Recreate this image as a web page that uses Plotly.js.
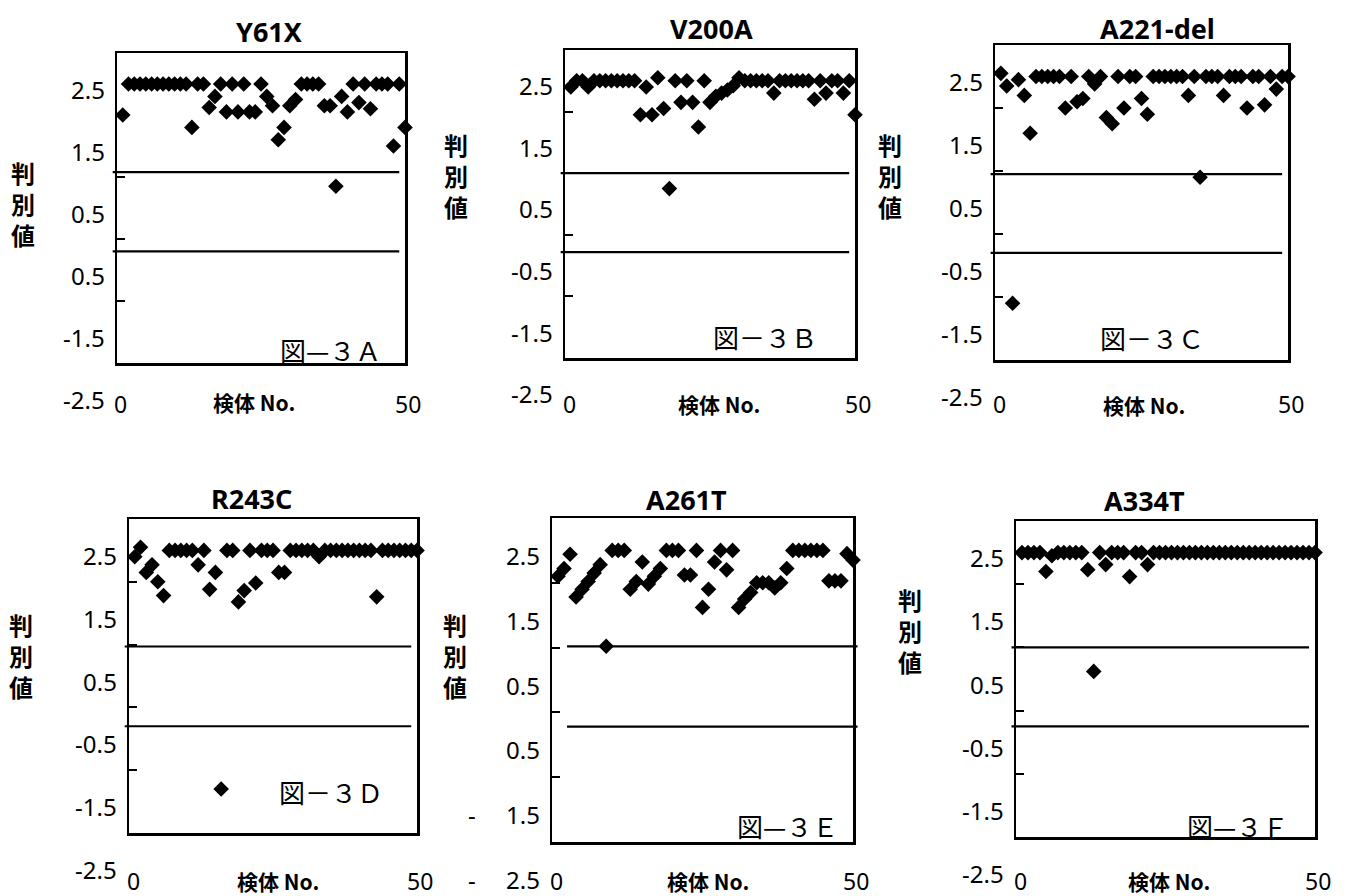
<!DOCTYPE html>
<html><head><meta charset="utf-8">
<script src="https://cdn.plot.ly/plotly-3.0.1.min.js"></script>
<style>html,body{margin:0;padding:0;background:#fff}</style>
</head><body><div id="chart" style="width:1349px;height:896px"></div>
<script>
// ---------- data ----------
const specimenNo = [1,2,3,4,5,6,7,8,9,10,11,12,13,14,15,16,17,18,19,20,21,22,23,24,25,26,27,28,29,30,31,32,33,34,35,36,37,38,39,40,41,42,43,44,45,46,47,48,49,50];
const y61x = [2.0,2.5,2.5,2.5,2.5,2.5,2.5,2.5,2.5,2.5, 2.5,2.5,1.8,2.5,2.5,2.12,2.3,2.5,2.05,2.5, 2.05,2.5,2.05,2.05,2.5,2.3,2.15,1.6,1.8,2.15, 2.25,2.5,2.5,2.5,2.5,2.15,2.15,0.85,2.3,2.05, 2.5,2.2,2.5,2.1,2.5,2.5,2.5,1.5,2.5,1.8];
const v200a = [2.4,2.5,2.5,2.4,2.5,2.5,2.5,2.5,2.5,2.5, 2.5,2.5,1.95,2.4,1.95,2.55,2.05,0.75,2.5,2.15, 2.5,2.15,1.75,2.5,2.15,2.25,2.3,2.35,2.42,2.55, 2.5,2.5,2.5,2.5,2.5,2.3,2.5,2.5,2.5,2.5, 2.5,2.5,2.2,2.5,2.3,2.5,2.5,2.3,2.5,1.95];
const a221del = [2.55,2.35,-1.1,2.45,2.2,1.6,2.5,2.5,2.5,2.5, 2.5,2.0,2.5,2.1,2.15,2.5,2.38,2.5,1.85,1.75, 2.5,2.0,2.5,2.5,2.15,1.9,2.5,2.5,2.5,2.5, 2.5,2.5,2.2,2.5,0.9,2.5,2.5,2.5,2.2,2.5, 2.5,2.5,2.0,2.5,2.5,2.05,2.5,2.3,2.5,2.5];
const r243c = [2.4,2.55,2.15,2.27,2.0,1.78,2.5,2.5,2.5,2.5, 2.5,2.27,2.5,1.88,2.15,-1.3,2.5,2.5,1.68,1.86, 2.5,1.98,2.5,2.5,2.5,2.15,2.15,2.5,2.5,2.5, 2.5,2.5,2.4,2.5,2.5,2.5,2.5,2.5,2.5,2.5, 2.5,2.5,1.76,2.5,2.5,2.5,2.5,2.5,2.5,2.5];
const a261t = [2.1,2.22,2.44,1.78,1.9,2.02,2.15,2.28,1.02,2.5, 2.5,2.5,1.9,2.02,2.32,1.98,2.1,2.22,2.5,2.5, 2.5,2.12,2.12,2.5,1.62,1.9,2.32,2.5,2.2,2.5, 1.62,1.75,1.85,2.0,2.0,2.0,1.92,2.0,2.22,2.5, 2.5,2.5,2.5,2.5,2.5,2.03,2.03,2.03,2.45,2.35];
const a334t = [2.5,2.5,2.5,2.5,2.2,2.45,2.5,2.5,2.5,2.5, 2.5,2.23,0.62,2.5,2.31,2.5,2.5,2.5,2.12,2.5, 2.5,2.31,2.5,2.5,2.5,2.5,2.5,2.5,2.5,2.5, 2.5,2.5,2.5,2.5,2.5,2.5,2.5,2.5,2.5,2.5, 2.5,2.5,2.5,2.5,2.5,2.5,2.5,2.5,2.5,2.5];

const panelTitles = ['Y61X','V200A','A221-del','R243C','A261T','A334T'];
const figureLabels = ['図—３Ａ','図－３Ｂ','図－３Ｃ','図－３Ｄ','図—３Ｅ','図—３Ｆ'];
const upperCut = [1.08,1.0,0.95,0.97,1.02,1.0];
const lowerCut = [-0.2,-0.28,-0.3,-0.3,-0.22,-0.25];
const yLabelValues = [2.5,1.5,0.5,-0.5,-1.5,-2.5];
const yLabelsStd = ['2.5','1.5','0.5','-0.5','-1.5','-2.5'];
const yLabelsA = ['2.5','1.5','0.5','0.5','-1.5','-2.5'];
const yLabelsE = ['2.5','1.5','0.5','0.5','-\u2003 1.5','-\u2003 2.5'];
const xEndValues = [0,50];
const xEndLabels = ['0','50'];
const yAxisTitle = '判<br>別<br>値';
const xAxisTitle = '検体 No.';
const yRange = [-2,3];
const xRange = [0,50];

const series = [y61x, v200a, a221del, r243c, a261t, a334t];
const yLabelSets = [yLabelsA, yLabelsStd, yLabelsStd, yLabelsStd, yLabelsE, yLabelsStd];

// ---------- layout geometry (pixels) ----------
const W = 1349, H = 896;
const boxes = [[117,405,53,363],[565,855,50,358],[995,1288,45,360],[129,417,519,833],[552,853,518,842],[1016,1315,521,837]];
const titlePos = [[269,32],[711,28],[1157,29],[251,498],[686,499],[1144,500]];
const yTitlePos = [[23,203],[456,176],[890,176],[21,655],[455,655],[910,630]];
const xTitlePos = [[254,402],[719,404],[1144,405],[278,881],[708,881],[1169,881]];
const figLabelPos = [[330,349],[765,336],[1152,337],[331,791],[787,825],[1237,825]];
const endLabelY = [404,404,404,881,881,881];

const NUM_FONT = 'Noto Sans, Open Sans, sans-serif';
const CJK_FONT = 'Noto Sans CJK JP, Noto Sans, sans-serif';

const traces = [];
const layout = {
  width: W, height: H, margin: {l:0,r:0,t:0,b:0},
  paper_bgcolor: '#fff', plot_bgcolor: '#fff', showlegend: false,
  shapes: [], annotations: []
};

series.forEach((ys, i) => {
  const n = i + 1;
  const xa = 'x' + (n === 1 ? '' : n), ya = 'y' + (n === 1 ? '' : n);
  const xk = 'xaxis' + (n === 1 ? '' : n), yk = 'yaxis' + (n === 1 ? '' : n);
  const [l, r, t, b] = boxes[i];
  const yd = [1 - b / H, 1 - t / H];
  layout[xk] = {
    domain: [l / W, r / W], range: xRange, anchor: ya,
    showline: true, mirror: true, linecolor: '#000', linewidth: 2.5,
    showgrid: false, zeroline: false, showticklabels: false, ticks: '', fixedrange: true
  };
  layout[yk] = {
    domain: yd, range: yRange, anchor: xa,
    showline: true, mirror: true, linecolor: '#000', linewidth: 2.5,
    showgrid: false, zeroline: false, showticklabels: false,
    tickmode: 'array', tickvals: [-1,0,1,2], ticks: 'inside', ticklen: 8, tickwidth: 2, tickcolor: '#000', fixedrange: true
  };
  traces.push({
    type: 'scatter', mode: 'markers', x: specimenNo, y: ys, xaxis: xa, yaxis: ya,
    marker: {symbol: 'diamond', size: 12, color: '#000'}, cliponaxis: false, hoverinfo: 'skip'
  });
  // cut-off lines
  [upperCut[i], lowerCut[i]].forEach(v => {
    layout.shapes.push({
      type: 'line', xref: xa + ' domain', yref: ya, x0: (i === 4 ? 0.05 : -0.015), x1: (i === 4 ? 1.015 : 0.98), y0: v, y1: v,
      line: {color: '#000', width: 2.2}
    });
  });
  // y tick labels
  const labels = yLabelSets[i];
  yLabelValues.forEach((v, k) => {
    const frac = (v - yRange[0]) / (yRange[1] - yRange[0]);
    layout.annotations.push({
      xref: 'paper', yref: 'paper', x: (l - 10) / W, y: yd[0] + frac * (yd[1] - yd[0]),
      xanchor: 'right', yanchor: 'middle', yshift: -5, showarrow: false,
      text: labels[k], font: {family: NUM_FONT, size: 24, color: '#000'}
    });
  });
  // x end labels
  xEndValues.forEach((v, k) => {
    layout.annotations.push({
      xref: xa, yref: 'paper', x: v, y: 1 - endLabelY[i] / H, xshift: (k === 0 ? 4 : 3),
      xanchor: 'center', yanchor: 'middle', showarrow: false,
      text: xEndLabels[k], font: {family: NUM_FONT, size: 23, color: '#000'}
    });
  });
  // panel title
  layout.annotations.push({
    xref: 'paper', yref: 'paper', x: titlePos[i][0] / W, y: 1 - titlePos[i][1] / H,
    xanchor: 'center', yanchor: 'middle', showarrow: false,
    text: '<b>' + panelTitles[i] + '</b>', font: {family: NUM_FONT, size: 27, color: '#000'}
  });
  // y axis title
  layout.annotations.push({
    xref: 'paper', yref: 'paper', x: yTitlePos[i][0] / W, y: 1 - yTitlePos[i][1] / H,
    xanchor: 'center', yanchor: 'middle', showarrow: false,
    text: '<b>' + yAxisTitle + '</b>', font: {family: CJK_FONT, size: 24, color: '#000'}
  });
  // x axis title
  layout.annotations.push({
    xref: 'paper', yref: 'paper', x: xTitlePos[i][0] / W, y: 1 - xTitlePos[i][1] / H,
    xanchor: 'center', yanchor: 'middle', showarrow: false,
    text: '<b>' + xAxisTitle + '</b>', font: {family: CJK_FONT, size: 21, color: '#000'}
  });
  // figure label
  layout.annotations.push({
    xref: 'paper', yref: 'paper', x: figLabelPos[i][0] / W, y: 1 - figLabelPos[i][1] / H,
    xanchor: 'center', yanchor: 'middle', showarrow: false,
    text: figureLabels[i], font: {family: CJK_FONT, size: 26, color: '#000'}
  });
});

Plotly.newPlot('chart', traces, layout, {displayModeBar: false, staticPlot: true});
</script>
</body></html>
